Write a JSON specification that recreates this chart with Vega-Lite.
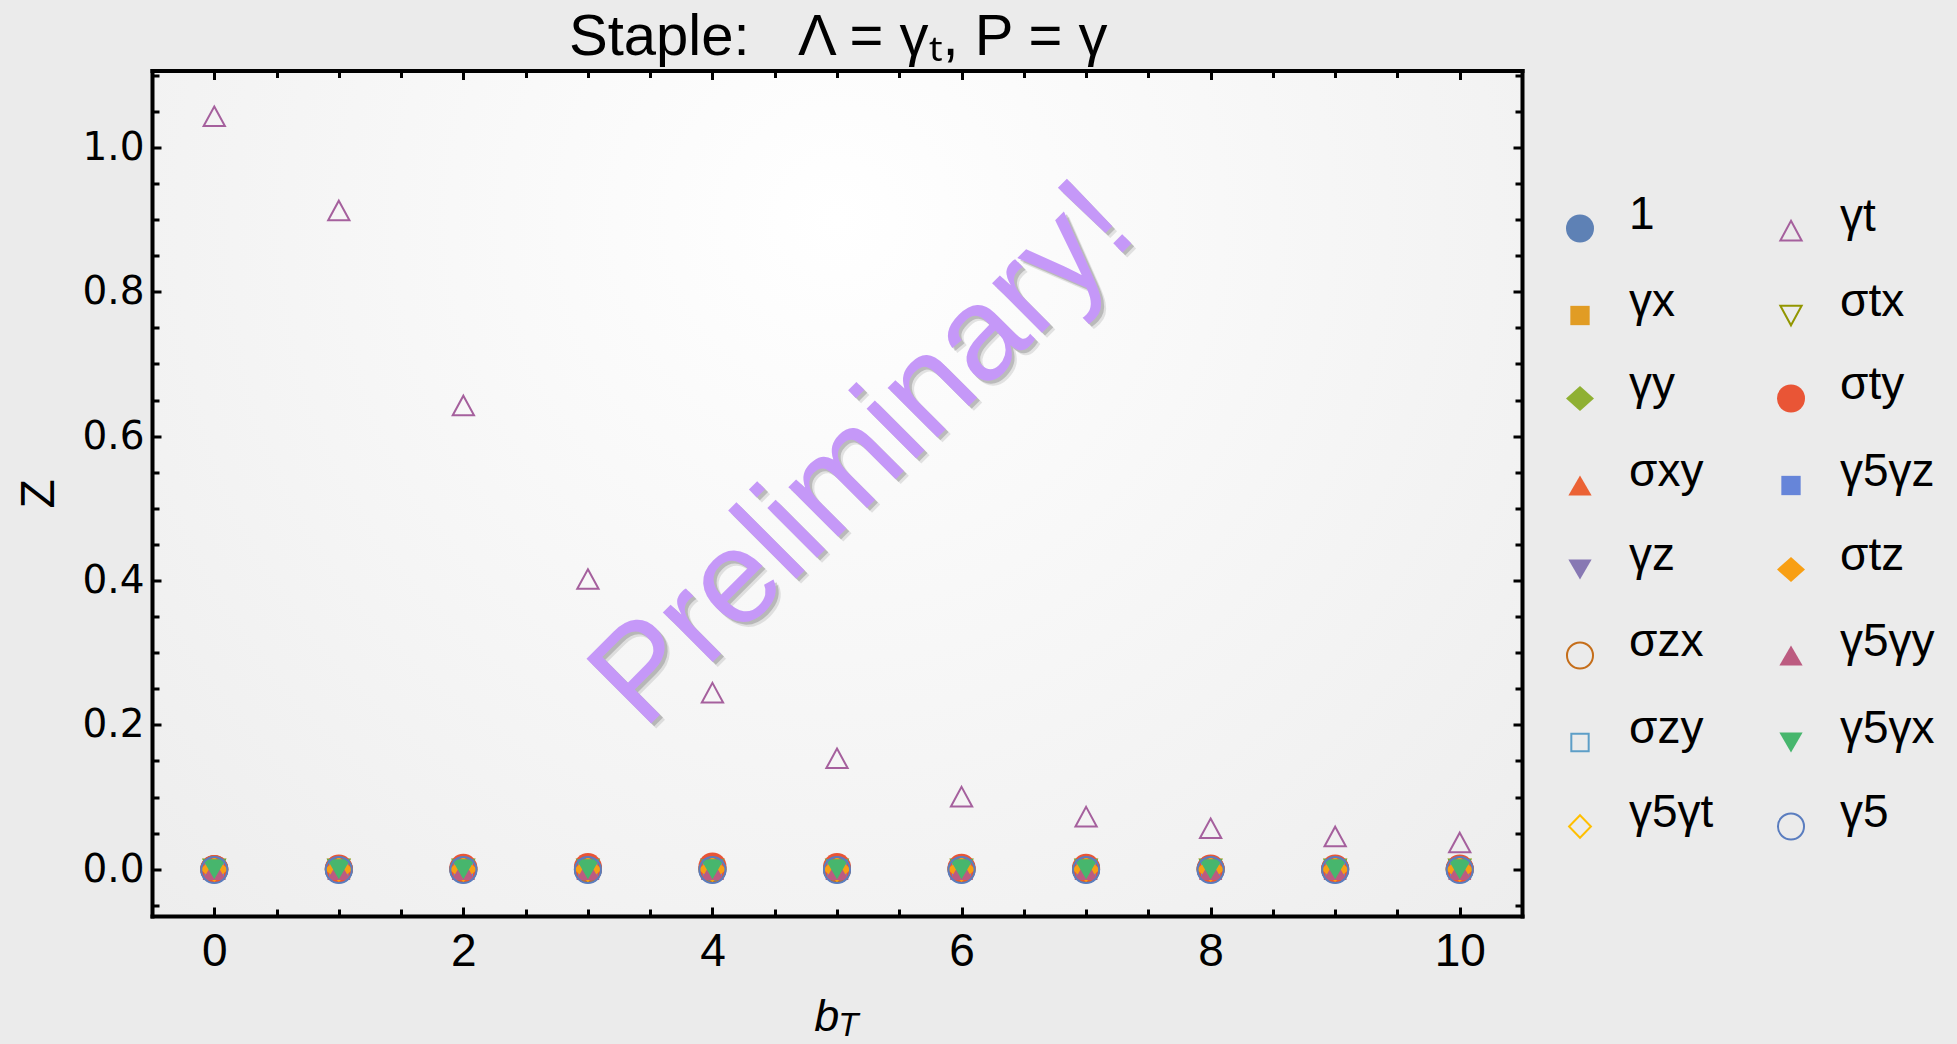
{
  "$schema": "https://vega.github.io/schema/vega-lite/v6.json",
  "width": 1370,
  "height": 845.5,
  "autosize": {"type": "none"},
  "padding": {"left": 152, "top": 70.5, "right": 435, "bottom": 128},
  "background": "#ebebeb",
  "config": {"view": {"stroke": null}, "axis": {"grid": false}},
  "resolve": {"axis": {"x": "independent", "y": "independent"}},
  "layer": [
    {
      "data": {"values": [{}]},
      "mark": {
        "type": "rect",
        "fill": {
          "gradient": "radial",
          "x1": 0.5, "y1": 0.3, "r1": 0,
          "x2": 0.5, "y2": 0.3, "r2": 0.8,
          "stops": [
            {"offset": 0, "color": "#ffffff"},
            {"offset": 1, "color": "#ebebeb"}
          ]
        }
      },
      "encoding": {}
    },
    {
      "data": {
        "values": [
          {"op": "1", "bT": 0, "Z": 0}, {"op": "1", "bT": 1, "Z": 0}, {"op": "1", "bT": 2, "Z": 0}, {"op": "1", "bT": 3, "Z": 0}, {"op": "1", "bT": 4, "Z": 0}, {"op": "1", "bT": 5, "Z": 0}, {"op": "1", "bT": 6, "Z": 0}, {"op": "1", "bT": 7, "Z": 0}, {"op": "1", "bT": 8, "Z": 0}, {"op": "1", "bT": 9, "Z": 0}, {"op": "1", "bT": 10, "Z": 0},
          {"op": "γx", "bT": 0, "Z": 0}, {"op": "γx", "bT": 1, "Z": 0}, {"op": "γx", "bT": 2, "Z": 0}, {"op": "γx", "bT": 3, "Z": 0}, {"op": "γx", "bT": 4, "Z": 0}, {"op": "γx", "bT": 5, "Z": 0}, {"op": "γx", "bT": 6, "Z": 0}, {"op": "γx", "bT": 7, "Z": 0}, {"op": "γx", "bT": 8, "Z": 0}, {"op": "γx", "bT": 9, "Z": 0}, {"op": "γx", "bT": 10, "Z": 0},
          {"op": "γy", "bT": 0, "Z": 0}, {"op": "γy", "bT": 1, "Z": 0}, {"op": "γy", "bT": 2, "Z": 0}, {"op": "γy", "bT": 3, "Z": 0}, {"op": "γy", "bT": 4, "Z": 0}, {"op": "γy", "bT": 5, "Z": 0}, {"op": "γy", "bT": 6, "Z": 0}, {"op": "γy", "bT": 7, "Z": 0}, {"op": "γy", "bT": 8, "Z": 0}, {"op": "γy", "bT": 9, "Z": 0}, {"op": "γy", "bT": 10, "Z": 0},
          {"op": "σxy", "bT": 0, "Z": 0.001}, {"op": "σxy", "bT": 1, "Z": 0.001}, {"op": "σxy", "bT": 2, "Z": 0.001}, {"op": "σxy", "bT": 3, "Z": 0.001}, {"op": "σxy", "bT": 4, "Z": 0.001}, {"op": "σxy", "bT": 5, "Z": 0.001}, {"op": "σxy", "bT": 6, "Z": 0.001}, {"op": "σxy", "bT": 7, "Z": 0.001}, {"op": "σxy", "bT": 8, "Z": 0.001}, {"op": "σxy", "bT": 9, "Z": 0.001}, {"op": "σxy", "bT": 10, "Z": 0.001},
          {"op": "γz", "bT": 0, "Z": -0.003}, {"op": "γz", "bT": 1, "Z": -0.003}, {"op": "γz", "bT": 2, "Z": -0.001}, {"op": "γz", "bT": 3, "Z": -0.001}, {"op": "γz", "bT": 4, "Z": -0.001}, {"op": "γz", "bT": 5, "Z": -0.001}, {"op": "γz", "bT": 6, "Z": -0.001}, {"op": "γz", "bT": 7, "Z": -0.001}, {"op": "γz", "bT": 8, "Z": -0.001}, {"op": "γz", "bT": 9, "Z": -0.001}, {"op": "γz", "bT": 10, "Z": -0.001},
          {"op": "σzx", "bT": 0, "Z": 0}, {"op": "σzx", "bT": 1, "Z": 0}, {"op": "σzx", "bT": 2, "Z": 0}, {"op": "σzx", "bT": 3, "Z": 0}, {"op": "σzx", "bT": 4, "Z": 0}, {"op": "σzx", "bT": 5, "Z": 0}, {"op": "σzx", "bT": 6, "Z": 0}, {"op": "σzx", "bT": 7, "Z": 0}, {"op": "σzx", "bT": 8, "Z": 0}, {"op": "σzx", "bT": 9, "Z": 0}, {"op": "σzx", "bT": 10, "Z": 0},
          {"op": "σzy", "bT": 0, "Z": 0}, {"op": "σzy", "bT": 1, "Z": 0}, {"op": "σzy", "bT": 2, "Z": 0}, {"op": "σzy", "bT": 3, "Z": 0}, {"op": "σzy", "bT": 4, "Z": 0}, {"op": "σzy", "bT": 5, "Z": 0}, {"op": "σzy", "bT": 6, "Z": 0}, {"op": "σzy", "bT": 7, "Z": 0}, {"op": "σzy", "bT": 8, "Z": 0}, {"op": "σzy", "bT": 9, "Z": 0}, {"op": "σzy", "bT": 10, "Z": 0},
          {"op": "γ5γt", "bT": 0, "Z": 0}, {"op": "γ5γt", "bT": 1, "Z": 0}, {"op": "γ5γt", "bT": 2, "Z": 0}, {"op": "γ5γt", "bT": 3, "Z": 0}, {"op": "γ5γt", "bT": 4, "Z": 0}, {"op": "γ5γt", "bT": 5, "Z": 0}, {"op": "γ5γt", "bT": 6, "Z": 0}, {"op": "γ5γt", "bT": 7, "Z": 0}, {"op": "γ5γt", "bT": 8, "Z": 0}, {"op": "γ5γt", "bT": 9, "Z": 0}, {"op": "γ5γt", "bT": 10, "Z": 0},
          {"op": "γt", "bT": 0, "Z": 1.043}, {"op": "γt", "bT": 1, "Z": 0.9125}, {"op": "γt", "bT": 2, "Z": 0.6424}, {"op": "γt", "bT": 3, "Z": 0.402}, {"op": "γt", "bT": 4, "Z": 0.2446}, {"op": "γt", "bT": 5, "Z": 0.1537}, {"op": "γt", "bT": 6, "Z": 0.1006}, {"op": "γt", "bT": 7, "Z": 0.0729}, {"op": "γt", "bT": 8, "Z": 0.0568}, {"op": "γt", "bT": 9, "Z": 0.0454}, {"op": "γt", "bT": 10, "Z": 0.0371},
          {"op": "σtx", "bT": 0, "Z": 0}, {"op": "σtx", "bT": 1, "Z": 0}, {"op": "σtx", "bT": 2, "Z": 0}, {"op": "σtx", "bT": 3, "Z": 0}, {"op": "σtx", "bT": 4, "Z": 0}, {"op": "σtx", "bT": 5, "Z": 0}, {"op": "σtx", "bT": 6, "Z": 0}, {"op": "σtx", "bT": 7, "Z": 0}, {"op": "σtx", "bT": 8, "Z": 0}, {"op": "σtx", "bT": 9, "Z": 0}, {"op": "σtx", "bT": 10, "Z": 0},
          {"op": "σty", "bT": 0, "Z": 0.0005}, {"op": "σty", "bT": 1, "Z": 0.001}, {"op": "σty", "bT": 2, "Z": 0.002}, {"op": "σty", "bT": 3, "Z": 0.003}, {"op": "σty", "bT": 4, "Z": 0.004}, {"op": "σty", "bT": 5, "Z": 0.003}, {"op": "σty", "bT": 6, "Z": 0.002}, {"op": "σty", "bT": 7, "Z": 0.002}, {"op": "σty", "bT": 8, "Z": 0.001}, {"op": "σty", "bT": 9, "Z": 0.001}, {"op": "σty", "bT": 10, "Z": 0.001},
          {"op": "γ5γz", "bT": 0, "Z": 0}, {"op": "γ5γz", "bT": 1, "Z": 0}, {"op": "γ5γz", "bT": 2, "Z": 0}, {"op": "γ5γz", "bT": 3, "Z": 0}, {"op": "γ5γz", "bT": 4, "Z": 0}, {"op": "γ5γz", "bT": 5, "Z": 0}, {"op": "γ5γz", "bT": 6, "Z": 0}, {"op": "γ5γz", "bT": 7, "Z": 0}, {"op": "γ5γz", "bT": 8, "Z": 0}, {"op": "γ5γz", "bT": 9, "Z": 0}, {"op": "γ5γz", "bT": 10, "Z": 0},
          {"op": "σtz", "bT": 0, "Z": 0}, {"op": "σtz", "bT": 1, "Z": 0}, {"op": "σtz", "bT": 2, "Z": 0}, {"op": "σtz", "bT": 3, "Z": 0}, {"op": "σtz", "bT": 4, "Z": 0}, {"op": "σtz", "bT": 5, "Z": 0}, {"op": "σtz", "bT": 6, "Z": 0}, {"op": "σtz", "bT": 7, "Z": 0}, {"op": "σtz", "bT": 8, "Z": 0}, {"op": "σtz", "bT": 9, "Z": 0}, {"op": "σtz", "bT": 10, "Z": 0},
          {"op": "γ5γy", "bT": 0, "Z": -0.001}, {"op": "γ5γy", "bT": 1, "Z": -0.001}, {"op": "γ5γy", "bT": 2, "Z": -0.001}, {"op": "γ5γy", "bT": 3, "Z": -0.001}, {"op": "γ5γy", "bT": 4, "Z": -0.001}, {"op": "γ5γy", "bT": 5, "Z": -0.001}, {"op": "γ5γy", "bT": 6, "Z": -0.001}, {"op": "γ5γy", "bT": 7, "Z": -0.001}, {"op": "γ5γy", "bT": 8, "Z": -0.001}, {"op": "γ5γy", "bT": 9, "Z": -0.001}, {"op": "γ5γy", "bT": 10, "Z": -0.001},
          {"op": "γ5γx", "bT": 0, "Z": 0}, {"op": "γ5γx", "bT": 1, "Z": 0}, {"op": "γ5γx", "bT": 2, "Z": 0}, {"op": "γ5γx", "bT": 3, "Z": 0}, {"op": "γ5γx", "bT": 4, "Z": 0}, {"op": "γ5γx", "bT": 5, "Z": 0}, {"op": "γ5γx", "bT": 6, "Z": 0}, {"op": "γ5γx", "bT": 7, "Z": 0}, {"op": "γ5γx", "bT": 8, "Z": 0}, {"op": "γ5γx", "bT": 9, "Z": 0}, {"op": "γ5γx", "bT": 10, "Z": 0},
          {"op": "γ5", "bT": 0, "Z": -0.001}, {"op": "γ5", "bT": 1, "Z": -0.001}, {"op": "γ5", "bT": 2, "Z": -0.001}, {"op": "γ5", "bT": 3, "Z": -0.001}, {"op": "γ5", "bT": 4, "Z": -0.001}, {"op": "γ5", "bT": 5, "Z": -0.001}, {"op": "γ5", "bT": 6, "Z": -0.001}, {"op": "γ5", "bT": 7, "Z": -0.001}, {"op": "γ5", "bT": 8, "Z": -0.001}, {"op": "γ5", "bT": 9, "Z": -0.001}, {"op": "γ5", "bT": 10, "Z": -0.001}
        ]
      },
      "mark": {"type": "point", "size": 784, "opacity": 1, "strokeWidth": 2},
      "encoding": {
        "x": {
          "field": "bT", "type": "quantitative",
          "scale": {"domain": [-0.5, 10.5], "nice": false, "zero": false},
          "axis": {
            "orient": "bottom", "zindex": 1, "title": null,
            "values": [0, 0.5, 1, 1.5, 2, 2.5, 3, 3.5, 4, 4.5, 5, 5.5, 6, 6.5, 7, 7.5, 8, 8.5, 9, 9.5, 10],
            "labelExpr": "datum.value % 2 === 0 ? format(datum.value, 'd') : ''",
            "labelFont": "Liberation Sans", "labelFontSize": 46, "labelColor": "#000000",
            "labelPadding": 22, "labelOverlap": false, "labelFlush": false, "labelBound": false,
            "tickSize": -9, "tickWidth": 3, "tickColor": "#000000",
            "tickDash": {"condition": {"test": "datum.value % 2 === 0", "value": [20, 1]}, "value": [7, 40]},
            "domain": true, "domainColor": "#000000", "domainWidth": 4, "domainCap": "square"
          }
        },
        "y": {
          "field": "Z", "type": "quantitative",
          "scale": {"domain": [-0.0647, 1.1064], "nice": false, "zero": false},
          "axis": {
            "orient": "left", "zindex": 1,
            "values": [-0.05, 0, 0.05, 0.1, 0.15, 0.2, 0.25, 0.3, 0.35, 0.4, 0.45, 0.5, 0.55, 0.6, 0.65, 0.7, 0.75, 0.8, 0.85, 0.9, 0.95, 1, 1.05, 1.1],
            "labelExpr": "abs(datum.value * 5 - round(datum.value * 5)) < 0.001 ? format(datum.value, '.1f') : ''",
            "labelFont": "DejaVu Sans", "labelFontSize": 39, "labelColor": "#000000",
            "labelPadding": 17, "labelOverlap": false, "labelFlush": false, "labelBound": false,
            "tickSize": -9, "tickWidth": 3, "tickColor": "#000000",
            "tickDash": {"condition": {"test": "abs(datum.value * 5 - round(datum.value * 5)) < 0.001", "value": [20, 1]}, "value": [7, 40]},
            "domain": true, "domainColor": "#000000", "domainWidth": 4, "domainCap": "square",
            "title": "Z", "titleFont": "Liberation Sans", "titleFontSize": 48, "titleFontWeight": "normal", "titleColor": "#000000",
            "titleAngle": 270, "titleAlign": "center", "titleBaseline": "alphabetic", "titleX": -99, "titleY": 422.75
          }
        },
        "shape": {
          "field": "op", "type": "nominal",
          "scale": {
            "domain": ["1", "γx", "γy", "σxy", "γz", "σzx", "σzy", "γ5γt", "γt", "σtx", "σty", "γ5γz", "σtz", "γ5γy", "γ5γx", "γ5"],
            "range": [
              "circle",
              "M-0.69,-0.69H0.69V0.69H-0.69Z",
              "M-1,0L0,-0.9L1,0L0,0.9Z",
              "M0,-0.72L0.83,0.72L-0.83,0.72Z",
              "M0,0.72L0.83,-0.72L-0.83,-0.72Z",
              "M0.93,0C0.93,0.5136,0.5136,0.93,0,0.93C-0.5136,0.93,-0.93,0.5136,-0.93,0C-0.93,-0.5136,-0.5136,-0.93,0,-0.93C0.5136,-0.93,0.93,-0.5136,0.93,0Z",
              "M-0.62,-0.62H0.62V0.62H-0.62Z",
              "M-0.78,0L0,-0.8L0.78,0L0,0.8Z",
              "M0,-0.7L0.76,0.7L-0.76,0.7Z",
              "M0,0.7L0.76,-0.7L-0.76,-0.7Z",
              "circle",
              "M-0.69,-0.69H0.69V0.69H-0.69Z",
              "M-1,0L0,-0.9L1,0L0,0.9Z",
              "M0,-0.72L0.83,0.72L-0.83,0.72Z",
              "M0,0.72L0.83,-0.72L-0.83,-0.72Z",
              "M0.93,0C0.93,0.5136,0.5136,0.93,0,0.93C-0.5136,0.93,-0.93,0.5136,-0.93,0C-0.93,-0.5136,-0.5136,-0.93,0,-0.93C0.5136,-0.93,0.93,-0.5136,0.93,0Z"
            ]
          },
          "legend": {
            "orient": "none", "legendX": 1405, "legendY": 135, "columns": 2, "title": null,
            "symbolSize": 784, "symbolStrokeWidth": 2, "symbolOpacity": 1,
            "labelFont": "Liberation Sans", "labelFontSize": 46, "labelColor": "#000000",
            "labelOffset": 26, "columnPadding": 54, "rowPadding": 32, "labelBaseline": "alphabetic",
            "padding": 0, "labelLimit": 400
          }
        },
        "fill": {
          "field": "op", "type": "nominal",
          "scale": {
            "domain": ["1", "γx", "γy", "σxy", "γz", "σzx", "σzy", "γ5γt", "γt", "σtx", "σty", "γ5γz", "σtz", "γ5γy", "γ5γx", "γ5"],
            "range": ["#5E81B5", "#E19C24", "#8FB032", "#EB6235", "#8778B3", "transparent", "transparent", "transparent", "transparent", "transparent", "#E95536", "#6685D9", "#F89F13", "#BC5B80", "#47B66D", "transparent"]
          }
        },
        "stroke": {
          "field": "op", "type": "nominal",
          "scale": {
            "domain": ["1", "γx", "γy", "σxy", "γz", "σzx", "σzy", "γ5γt", "γt", "σtx", "σty", "γ5γz", "σtz", "γ5γy", "γ5γx", "γ5"],
            "range": ["transparent", "transparent", "transparent", "transparent", "transparent", "#C56E1A", "#5D9EC7", "#FFBF00", "#A5609D", "#929600", "transparent", "transparent", "transparent", "transparent", "transparent", "#5A7DBF"]
          }
        }
      }
    },
    {
      "data": {"values": [{}]},
      "mark": {"type": "text", "text": "Preliminary!", "font": "Liberation Sans", "fontSize": 133, "angle": 315, "align": "center", "baseline": "alphabetic", "color": "#333333", "opacity": 0.12, "dy": 7},
      "encoding": {
        "x": {"datum": 5.44, "type": "quantitative", "axis": null},
        "y": {"datum": 0.535, "type": "quantitative", "axis": null}
      }
    },
    {
      "data": {"values": [{}]},
      "mark": {"type": "text", "text": "Preliminary!", "font": "Liberation Sans", "fontSize": 133, "angle": 315, "align": "center", "baseline": "alphabetic", "color": "#333333", "opacity": 0.22, "dy": 4},
      "encoding": {
        "x": {"datum": 5.44, "type": "quantitative", "axis": null},
        "y": {"datum": 0.535, "type": "quantitative", "axis": null}
      }
    },
    {
      "data": {"values": [{}]},
      "mark": {"type": "text", "text": "Preliminary!", "font": "Liberation Sans", "fontSize": 133, "angle": 315, "align": "center", "baseline": "alphabetic", "color": "#c598f8"},
      "encoding": {
        "x": {
          "datum": 5.44, "type": "quantitative",
          "axis": {
            "orient": "top", "zindex": 1, "title": null, "labels": false,
            "values": [0, 0.5, 1, 1.5, 2, 2.5, 3, 3.5, 4, 4.5, 5, 5.5, 6, 6.5, 7, 7.5, 8, 8.5, 9, 9.5, 10],
            "tickSize": -9, "tickWidth": 3, "tickColor": "#000000",
            "tickDash": {"condition": {"test": "datum.value % 2 === 0", "value": [20, 1]}, "value": [7, 40]},
            "domain": true, "domainColor": "#000000", "domainWidth": 4, "domainCap": "square"
          }
        },
        "y": {
          "datum": 0.535, "type": "quantitative",
          "axis": {
            "orient": "right", "zindex": 1, "title": null, "labels": false,
            "values": [-0.05, 0, 0.05, 0.1, 0.15, 0.2, 0.25, 0.3, 0.35, 0.4, 0.45, 0.5, 0.55, 0.6, 0.65, 0.7, 0.75, 0.8, 0.85, 0.9, 0.95, 1, 1.05, 1.1],
            "tickSize": -9, "tickWidth": 3, "tickColor": "#000000",
            "tickDash": {"condition": {"test": "abs(datum.value * 5 - round(datum.value * 5)) < 0.001", "value": [20, 1]}, "value": [7, 40]},
            "domain": true, "domainColor": "#000000", "domainWidth": 4, "domainCap": "square"
          }
        }
      }
    },
    {
      "data": {"values": [{}]},
      "mark": {"type": "text", "text": "Staple:\u00a0\u00a0\u00a0Λ = γₜ, P = γ", "font": "Liberation Sans", "fontSize": 58, "align": "center", "baseline": "alphabetic", "color": "#000000"},
      "encoding": {
        "x": {"datum": 5.01, "type": "quantitative", "axis": null},
        "y": {"datum": 1.1279, "type": "quantitative", "axis": null}
      }
    },
    {
      "data": {"values": [{}]},
      "mark": {"type": "text", "text": "b", "font": "Liberation Sans", "fontSize": 45, "fontStyle": "italic", "align": "center", "baseline": "alphabetic", "color": "#000000"},
      "encoding": {
        "x": {"datum": 4.917, "type": "quantitative", "axis": null},
        "y": {"datum": -0.224, "type": "quantitative", "axis": null}
      }
    },
    {
      "data": {"values": [{}]},
      "mark": {"type": "text", "text": "T", "font": "Liberation Sans", "fontSize": 33, "fontStyle": "italic", "align": "center", "baseline": "alphabetic", "color": "#000000"},
      "encoding": {
        "x": {"datum": 5.09, "type": "quantitative", "axis": null},
        "y": {"datum": -0.2309, "type": "quantitative", "axis": null}
      }
    }
  ]
}
